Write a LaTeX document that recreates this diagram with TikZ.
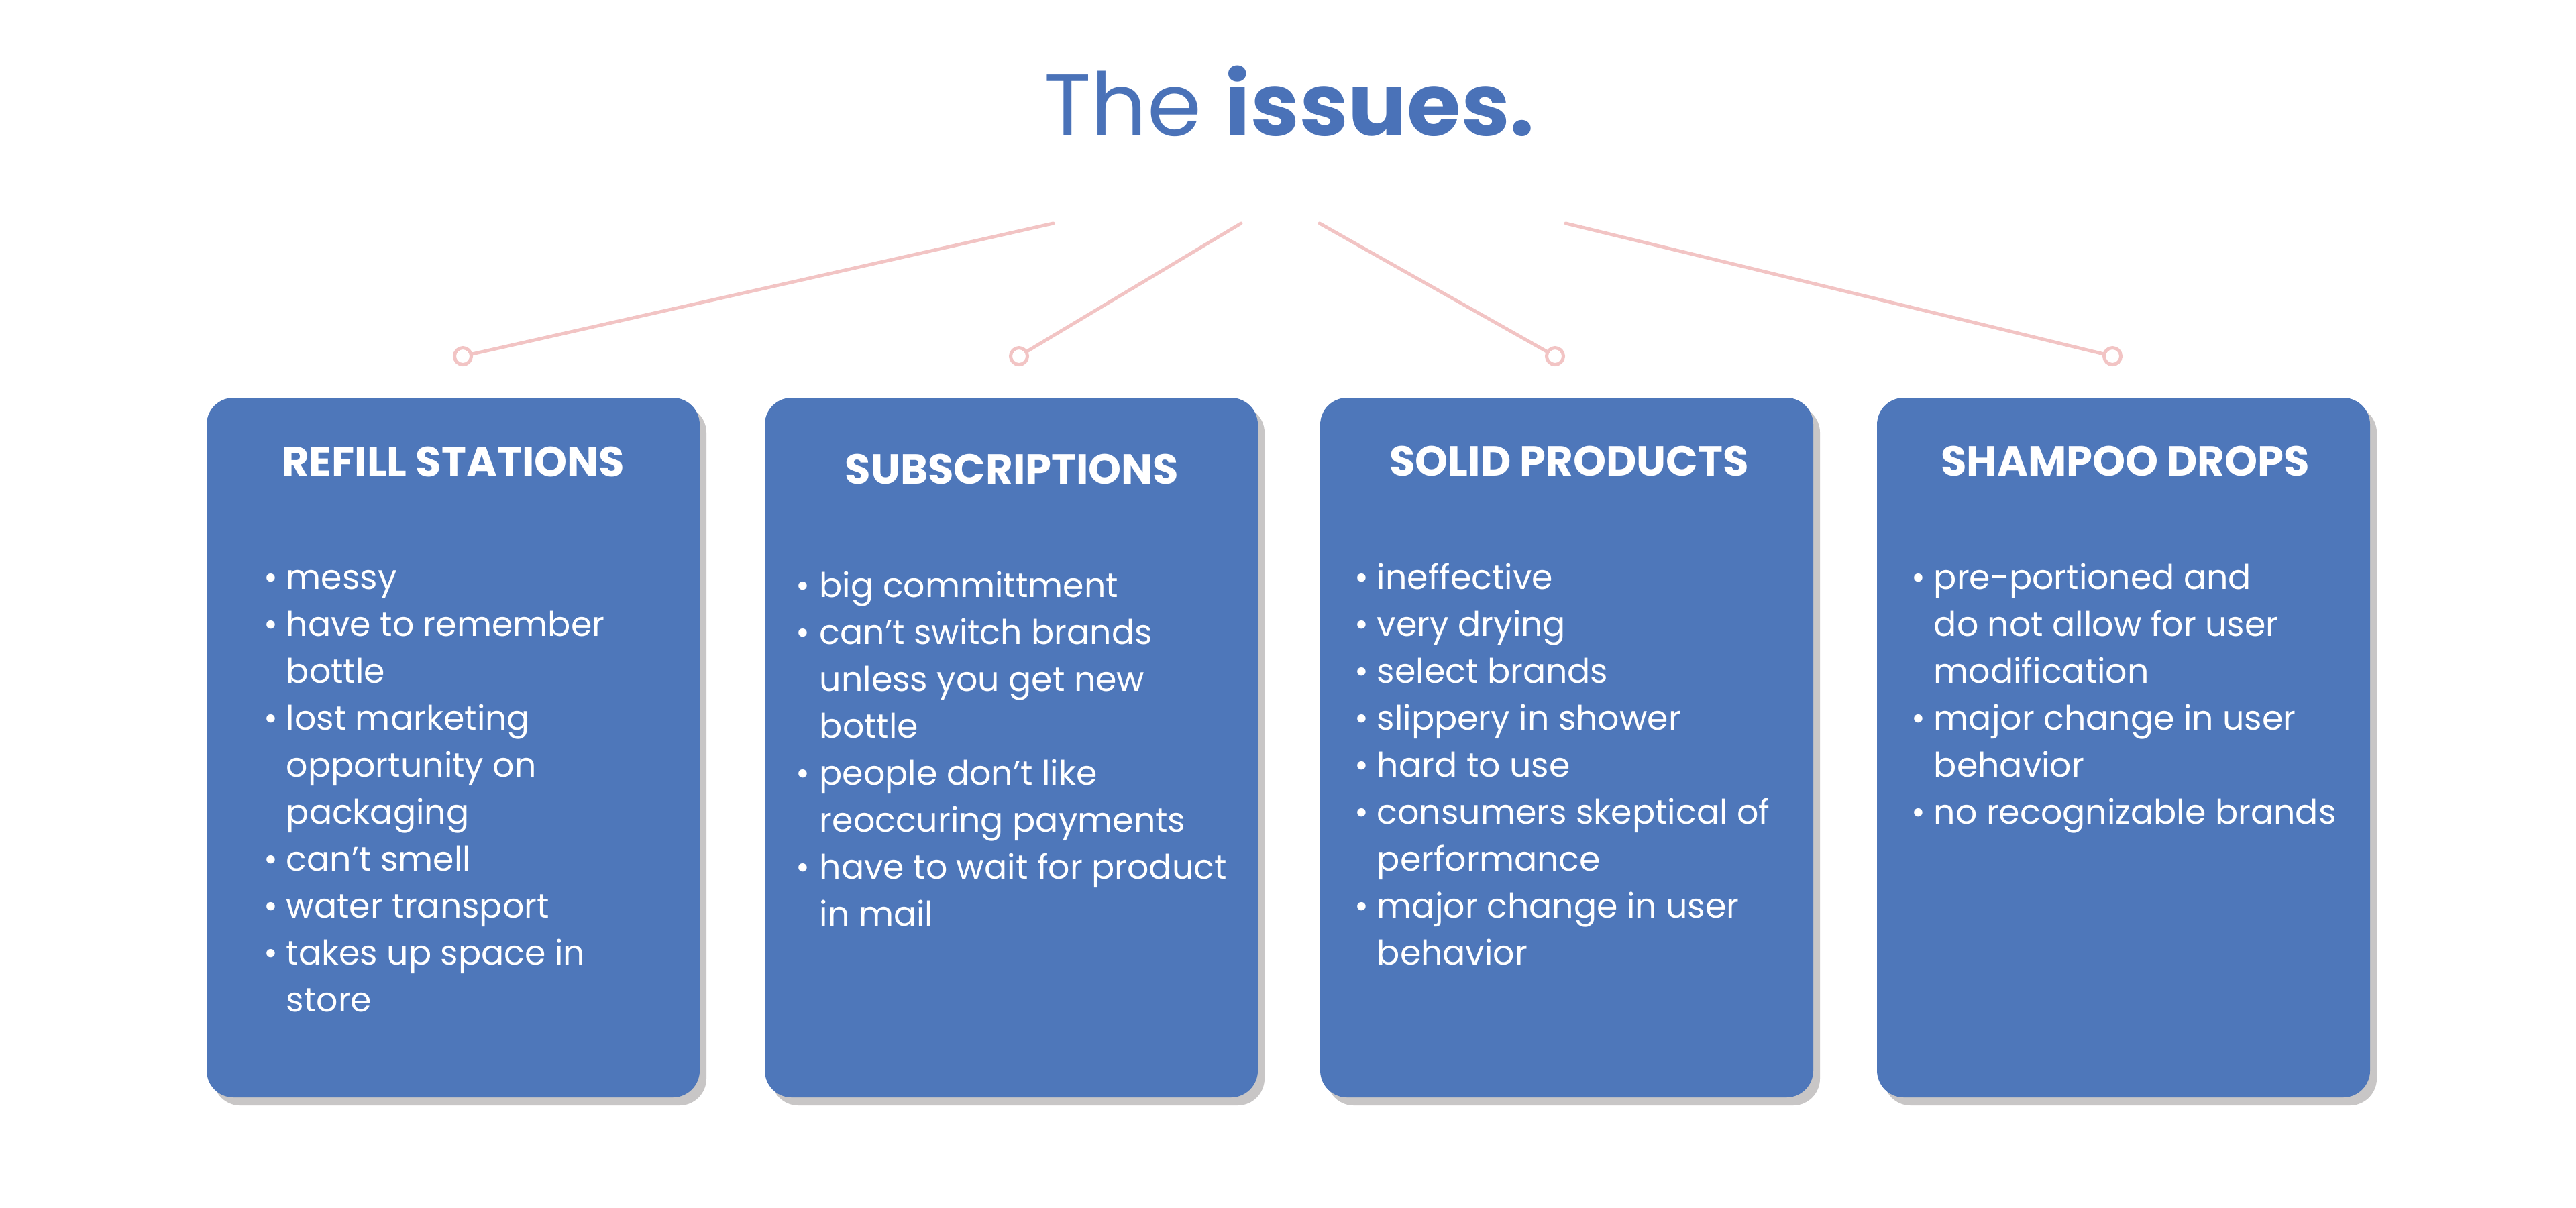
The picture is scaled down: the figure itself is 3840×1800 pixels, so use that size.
\documentclass[tikz,border=0pt]{standalone}
\usepackage{fontspec}
\setmainfont{Poppins}
\usetikzlibrary{shadows}
\definecolor{boxblue}{RGB}{78,119,186}
\definecolor{titleblue}{RGB}{74,114,184}
\definecolor{linepink}{RGB}{242,196,196}
\definecolor{shadowgray}{RGB}{200,198,198}
\newcommand{\bul}{\textbullet}
\begin{document}
\begin{tikzpicture}[x=0.25pt,y=-0.25pt,
  card/.style={fill=boxblue, rounded corners=10pt, minimum width=183.75pt, minimum height=260.75pt, inner sep=0pt,
    drop shadow={shadow xshift=2.5pt, shadow yshift=-3pt, fill=shadowgray, opacity=1}},
  heading/.style={anchor=base, text=white, inner sep=0pt, font=\fontsize{15.6pt}{18pt}\selectfont\bfseries},
  items/.style={anchor=base west, text=white, inner sep=0pt, font=\fontsize{12.65pt}{17.5pt}\selectfont},
  connector/.style={draw=linepink, line width=1.25pt, line cap=round},
  endring/.style={circle, draw=linepink, line width=1.25pt, minimum size=6.25pt, inner sep=0pt}]
\useasboundingbox (0,0) rectangle (3840,1800);
\fill[white] (0,0) rectangle (3840,1800);

\node[anchor=base, text=titleblue, inner sep=0pt, font=\fontsize{32.6pt}{40pt}\selectfont] (title) at (1922,202) {The \textbf{issues.}};

% cards
\node[card] (c1) at (675.5,1114.5) {};
\node[card] (c2) at (1507.5,1114.5) {};
\node[card] (c3) at (2335.5,1114.5) {};
\node[card] (c4) at (3165.5,1114.5) {};

% connectors
\coordinate (s1) at (1570,333);
\coordinate (s2) at (1850,333);
\coordinate (s3) at (1967,333);
\coordinate (s4) at (2334,333);
\node[endring] (r1) at (690,531) {};
\node[endring] (r2) at (1519,531) {};
\node[endring] (r3) at (2318,531) {};
\node[endring] (r4) at (3149,531) {};
\draw[connector] (s1) -- (r1);
\draw[connector] (s2) -- (r2);
\draw[connector] (s3) -- (r3);
\draw[connector] (s4) -- (r4);

% headings
\node[heading] (h1) at (675.5,710) {REFILL STATIONS};
\node[heading] (h2) at (1508.5,721) {SUBSCRIPTIONS};
\node[heading] (h3) at (2339,709) {SOLID PRODUCTS};
\node[heading] (h4) at (3168,709) {SHAMPOO DROPS};

% items
\node[items] (l1) at (393,878) {\begin{tabular}[t]{@{}p{8.25pt}@{}l@{}}
\bul & messy\\
\bul & have to remember\\
 & bottle\\
\bul & lost marketing\\
 & opportunity on\\
 & packaging\\
\bul & can’t smell\\
\bul & water transport\\
\bul & takes up space in\\
 & store
\end{tabular}};
\node[items] (l2) at (1186,890) {\begin{tabular}[t]{@{}p{8.75pt}@{}l@{}}
\bul & big committment\\
\bul & can’t switch brands\\
 & unless you get new\\
 & bottle\\
\bul & people don’t like\\
 & reoccuring payments\\
\bul & have to wait for product\\
 & in mail
\end{tabular}};
\node[items] (l3) at (2019,878) {\begin{tabular}[t]{@{}p{8.25pt}@{}l@{}}
\bul & ineffective\\
\bul & very drying\\
\bul & select brands\\
\bul & slippery in shower\\
\bul & hard to use\\
\bul & consumers skeptical of\\
 & performance\\
\bul & major change in user\\
 & behavior
\end{tabular}};
\node[items] (l4) at (2849,878) {\begin{tabular}[t]{@{}p{8.25pt}@{}l@{}}
\bul & pre-portioned and\\
 & do not allow for user\\
 & modification\\
\bul & major change in user\\
 & behavior\\
\bul & no recognizable brands
\end{tabular}};
\end{tikzpicture}
\end{document}
